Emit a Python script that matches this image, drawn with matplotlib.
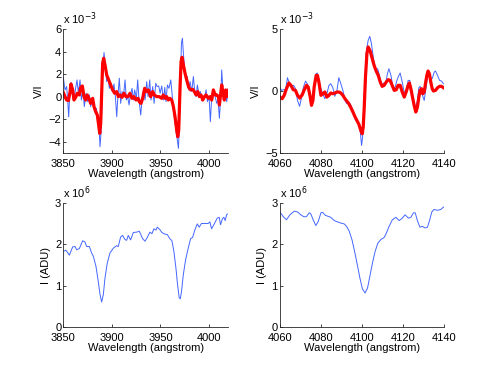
import matplotlib
matplotlib.use('Agg')
import matplotlib.pyplot as plt
import numpy as np

plt.rcParams['font.family'] = ['Liberation Sans', 'DejaVu Sans']
plt.rcParams['font.size'] = 8

# ---- top left: V/I around 3850-4020 (units of 1e-3)
tl_blue_wl = [3850, 3851.7, 3853.4, 3854.5, 3855.5, 3856.5, 3857.9, 3859.3, 3861, 3862.4,
              3864.1, 3865.5, 3867.2, 3868.6, 3870.3, 3871.6, 3873.4, 3875.1, 3876.8, 3878.2,
              3879.6, 3881.3, 3882.6, 3884, 3885.7, 3887.1, 3887.8, 3888.8, 3889.9, 3890.9,
              3891.9, 3893.3, 3894.7, 3896, 3897.4, 3899.1, 3900.5, 3902.2, 3903.6, 3905,
              3906.4, 3907.7, 3909.1, 3910.5, 3911.9, 3913.6, 3914.9, 3916.3, 3917.7, 3919.1,
              3920.8, 3922.2, 3923.5, 3925.3, 3926.6, 3928, 3929.7, 3931.4, 3932.8, 3934.2,
              3935.9, 3937.3, 3939, 3940.4, 3942.1, 3943.5, 3945.2, 3946.6, 3948.3, 3949.7,
              3951.4, 3953.1, 3954.5, 3955.8, 3957.2, 3958.9, 3960.7, 3962, 3963.4, 3964.8,
              3966.2, 3967.5, 3968.6, 3969.6, 3970.6, 3971.7, 3972.7, 3973.7, 3975.1, 3976.5,
              3977.8, 3979.2, 3980.6, 3982.3, 3984, 3985.4, 3986.8, 3988.1, 3989.9, 3991.2,
              3992.6, 3994.3, 3995.7, 3997.1, 3998.5, 4000.2, 4001.5, 4002.9, 4004.6, 4006.4,
              4008.1, 4009.5, 4010.8, 4012.2, 4013.2, 4014.3, 4015.6, 4017, 4018.4, 4019.8]
tl_blue = [1.7, 0.6, 0.9, -0.3, -1.8, 0, 1.25, 0.45, -0.3, 0.6,
           1.49, 0.3, 1.49, -0.3, 0.6, -0.89, 0.3, -0.45, 0.15, -0.89,
           -0.3, -0.6, -1.34, -1.04, -2.08, -3.27, -4.46, -3.27, 0, 2.68,
           3.93, 2.68, 1.34, 1.79, 0.74, 1.19, 0.45, 1.13, 0, -1.79,
           0.3, 1.64, -0.6, 0.45, 0, 1.49, -0.3, 0, -0.74, 0.15,
           0.74, -0.3, 0.6, -0.15, 1.49, -0.3, -1.64, 0, 0.6, -0.3,
           1.34, 0, 1.49, -0.3, 0.9, -0.6, 1.19, 0.9, 0.95, 0.3,
           0.95, -0.3, 0.83, -0.45, 1.04, 0.74, 1.49, 0.3, -1.19, -2.08,
           -3.12, -3.87, -4.61, -2.68, 0.9, 4.76, 5.2, 3.87, 2.38, 1.79,
           1.79, 0.6, 1.34, 0.45, 1.79, 0.45, 0, 1.04, 0.15, 0.45,
           -0.3, 0, 0, 0.6, -0.45, 0, -2.23, 0, 0.6, 0,
           -0.6, -0.3, -1.93, 0, 2.38, 0.74, -0.3, 0.65, -0.45, 0.74]

tl_red_wl = [3850, 3851.7, 3853.4, 3855.2, 3857, 3857.9, 3859.6, 3861, 3863, 3864.4,
             3866.5, 3867.9, 3869.6, 3871.3, 3873, 3874.7, 3876.8, 3878.1, 3880.2, 3881.6,
             3883.3, 3885, 3886.4, 3887.5, 3888.5, 3889.5, 3890.5, 3891.6, 3892.9, 3894.7,
             3896.7, 3898.8, 3900.8, 3902.9, 3904.9, 3906.7, 3908.4, 3910.5, 3912.5, 3914.6,
             3916.7, 3918.7, 3920.8, 3922.8, 3924.9, 3927, 3928.3, 3930, 3931.8, 3933.8,
             3935.9, 3937.6, 3940, 3942, 3943.8, 3946.2, 3948.9, 3951.3, 3953, 3954.8,
             3956.5, 3958.2, 3959.9, 3961.7, 3963.4, 3965.1, 3966.8, 3967.9, 3968.9, 3970.3,
             3971.3, 3972.3, 3973.7, 3975.4, 3977.1, 3979.2, 3981.2, 3983.3, 3985, 3986.8,
             3988.5, 3990.2, 3991.9, 3993.6, 3995.4, 3997.1, 3999.5, 4001.2, 4002.9, 4004.6,
             4006.4, 4008.1, 4009.8, 4010.8, 4012.2, 4013.2, 4014.9, 4015.9, 4017.3, 4018.4,
             4020]
tl_red = [0.36, 0, -0.3, -0.35, 0.45, 1.13, 0.6, -0.3, 0, 0.3,
          0.15, 0.83, 0.95, 0, -0.3, 0.15, -0.24, -0.6, -0.15, -0.89,
          -1.34, -1.64, -2.53, -3.27, -2.38, 0.3, 2.98, 3.42, 2.83, 1.93,
          1.49, 1.04, 0.6, 0.3, 0.45, 0, 0.15, -0.06, 0.3, 0,
          0, 0.3, -0.15, 0, -0.3, -0.15, -0.45, -0.6, -0.15, 0.74,
          0.45, 0.6, 0, 0.45, 0.15, 0, 0, -0.15, 0.15, -0.15,
          0, -0.3, -0.15, -0.3, -0.89, -1.79, -2.98, -3.57, -2.98, 0.89,
          3.13, 3.51, 2.83, 2.08, 1.49, 0.83, 0.6, 0.65, 0.45, 0.15,
          0.45, 0, 0.15, -0.3, 0, 0.15, -0.15, 0, -0.3, 0.6,
          0.15, 0.15, 0, -0.74, 0.3, 1.04, 0.15, -0.3, 0.6, 0,
          0.53]

# ---- top right: V/I around 4060-4140 (units of 1e-3)
tr_blue_wl = [4060, 4060.8, 4061.8, 4062.8, 4063.7, 4064.7, 4065.7, 4066.7, 4067.6, 4068.6,
              4069.6, 4070.6, 4071.5, 4072.5, 4073.5, 4074.4, 4075.4, 4076.4, 4077.4, 4078.2,
              4079, 4080, 4080.9, 4081.9, 4082.9, 4083.9, 4084.8, 4085.8, 4086.8, 4087.8,
              4088.7, 4089.7, 4090.7, 4091.7, 4092.6, 4093.6, 4094.6, 4095.6, 4096.5, 4097.5,
              4098.5, 4099.1, 4099.8, 4100.3, 4100.7, 4101.4, 4102, 4103, 4103.8, 4104.6,
              4105.6, 4106.6, 4107.6, 4108.5, 4109.5, 4110.5, 4111.5, 4112.4, 4113.1, 4114.1,
              4115, 4116, 4117, 4118, 4118.6, 4119.6, 4120.6, 4121.5, 4122.5, 4123.3,
              4124.1, 4125.1, 4126.1, 4127, 4127.7, 4128.3, 4129.3, 4130.3, 4131.3, 4132.2,
              4133.2, 4134.2, 4135.2, 4135.8, 4136.8, 4137.8, 4138.7, 4139.7]
tr_blue = [0.32, 0.05, 0.11, 0.11, 1.08, 0.59, 0.38, 0.46, 0.19, -0.76,
           -1.24, -0.49, 0.32, 0.81, 0.54, -0.35, -0.76, -0.08, 1.35, 1.46,
           0.73, 0.19, -0.22, -0.62, -0.22, 0.46, 0.59, 0.27, -0.43, 0.05,
           1.08, 0.59, 0.05, -0.76, -1.03, -0.89, -1.16, -1.57, -2.24, -2.38,
           -2.65, -3.19, -4.41, -3.73, -1.84, 0.59, 3.03, 4.11, 4.43, 3.84,
           2.62, 1.68, 1.81, 1.27, 0.46, 0.65, 0.59, 1.41, 1.81, 1.27,
           0.38, 0.19, 0.86, 1.27, 1.46, 0.73, -0.16, 0.05, 0.86, 0.86,
           0.05, -0.89, -1.30, -0.76, 0.27, 0.38, -0.27, -0.76, 0.38, 1.54,
           1.08, 1.0, 1.54, 1.62, 1.27, 0.86, 0.81, 0.59]

tr_red_wl = [4060, 4061.1, 4062.1, 4063.2, 4064.4, 4065.4, 4066.5, 4067.6, 4068.6, 4069.7,
             4070.9, 4071.9, 4073, 4073.8, 4074.8, 4075.4, 4076.1, 4076.7, 4077.7, 4078.3,
             4079, 4080, 4080.9, 4081.9, 4082.9, 4083.9, 4084.8, 4085.8, 4086.8, 4087.8,
             4088.7, 4089.7, 4090.7, 4091.7, 4092.6, 4093.6, 4094.6, 4095.6, 4096.5, 4097.5,
             4098.5, 4099.4, 4100.1, 4100.6, 4101.1, 4101.7, 4102.4, 4103, 4104, 4105,
             4105.9, 4106.9, 4107.9, 4108.9, 4109.8, 4110.8, 4111.8, 4112.8, 4113.7, 4114.7,
             4115.7, 4116.7, 4117.6, 4118.6, 4119.6, 4120.6, 4121.5, 4122.5, 4123.1, 4123.8,
             4124.6, 4125.4, 4126.2, 4127, 4127.7, 4128.3, 4129, 4129.6, 4130.3, 4130.9,
             4131.6, 4132.2, 4132.9, 4133.5, 4134.2, 4134.8, 4135.8, 4136.8, 4137.8, 4138.7,
             4139.7]
tr_red = [-0.49, -0.62, -0.35, 0.19, 0.65, 0.46, 0.11, 0.05, -0.35, -0.57,
          -0.3, 0.11, 0.46, 0.32, -0.49, -1.16, -0.76, 0.32, 1.27, 1.27,
          0.73, -0.35, -0.22, -0.08, -0.49, -0.35, -0.16, -0.22, -0.16, -0.08,
          -0.08, -0.16, -0.35, -0.62, -0.81, -1.03, -1.35, -1.70, -2.05, -2.38,
          -2.70, -3.19, -3.46, -2.92, -1.30, 1.14, 3.03, 3.57, 3.24, 2.62,
          2.08, 1.62, 1.27, 0.73, 0.38, 0.46, 0.73, 0.92, 0.86, 0.46,
          0.05, 0.11, 0.46, 0.46, -0.08, -0.49, -0.08, 0.46, 0.65, 0.19,
          -0.49, -1.16, -1.70, -1.30, -0.49, 0.05, 0.19, -0.22, -0.08, 0.59,
          1.27, 1.62, 1.35, 0.73, 0.19, 0, 0.05, 0.27, 0.38, 0.38,
          0.27]

# ---- bottom panels: intensity (units of 1e6 ADU)
bl_wl = [3850, 3852.7, 3856.2, 3859.6, 3862, 3863.7, 3866.5, 3869.9, 3872.3, 3874,
         3876.8, 3879.2, 3880.9, 3883.6, 3886, 3887.8, 3889.5, 3891.2, 3892.9, 3895.3,
         3898, 3901.5, 3904.9, 3906.6, 3909, 3911.1, 3913.5, 3915.2, 3916.9, 3919.3,
         3922.1, 3925.5, 3928.3, 3931.7, 3934.1, 3936.5, 3939.2, 3941.3, 3943.3, 3945.4,
         3946.8, 3949.5, 3951.2, 3953.6, 3957.1, 3959.8, 3961.9, 3963.9, 3966, 3967.7,
         3969.4, 3970.5, 3971.8, 3973.6, 3976, 3978.7, 3981.1, 3983.2, 3985.6, 3988,
         3990, 3992.4, 3995.9, 3999.3, 4001, 4002.7, 4005.1, 4008.6, 4010.6, 4012,
         4014, 4015.4, 4016.8, 4018.2, 4019.2]
bl_flux = [1.83, 1.86, 1.74, 1.94, 1.95, 1.87, 1.90, 2.09, 2.06, 1.95,
           1.95, 1.79, 1.71, 1.47, 1.10, 0.78, 0.60, 0.78, 1.18, 1.55,
           1.79, 1.91, 1.97, 1.95, 2.18, 2.22, 2.12, 2.10, 2.22, 2.11,
           2.29, 2.30, 2.32, 2.14, 2.08, 2.17, 2.30, 2.26, 2.38, 2.35,
           2.42, 2.36, 2.30, 2.26, 2.24, 2.14, 2.09, 1.83, 1.43, 1.02,
           0.70, 0.68, 0.86, 1.26, 1.63, 1.91, 2.14, 2.17, 2.36, 2.50,
           2.42, 2.51, 2.51, 2.51, 2.55, 2.38, 2.48, 2.64, 2.66, 2.48,
           2.63, 2.66, 2.58, 2.72, 2.74]

br_wl = [4060, 4061.6, 4063.2, 4064.9, 4067, 4068.6, 4070.2, 4071.8, 4073, 4074.3,
         4075.1, 4076.2, 4077.5, 4078.7, 4080, 4080.8, 4082.1, 4083.7, 4084.8, 4086.5,
         4088.1, 4089.7, 4091.3, 4092.5, 4093.8, 4095.1, 4096.4, 4097.7, 4099, 4100.2,
         4101.5, 4102.7, 4103.8, 4105.1, 4106.4, 4107.7, 4109.2, 4110.8, 4111.9, 4113.2,
         4114.8, 4116.5, 4118.1, 4119.4, 4121, 4122.6, 4123.8, 4125.1, 4125.9, 4127,
         4128.2, 4129.4, 4130.8, 4131.9, 4133, 4134, 4135.1, 4136.8, 4138.4, 4139.7]
br_flux = [2.79, 2.68, 2.60, 2.72, 2.81, 2.79, 2.72, 2.67, 2.68, 2.77,
           2.74, 2.60, 2.46, 2.56, 2.77, 2.78, 2.71, 2.68, 2.66, 2.58,
           2.55, 2.52, 2.50, 2.44, 2.32, 2.12, 1.83, 1.51, 1.18, 0.92,
           0.82, 0.94, 1.22, 1.55, 1.83, 2.03, 2.12, 2.17, 2.28, 2.44,
           2.60, 2.66, 2.58, 2.63, 2.72, 2.64, 2.66, 2.77, 2.77, 2.58,
           2.42, 2.44, 2.40, 2.42, 2.60, 2.79, 2.85, 2.83, 2.85, 2.91]

blue = '#4466ff'
red = '#ff0000'

fig = plt.figure(figsize=(4.91, 3.69), dpi=100)
ax_tl = fig.add_axes([0.129, 0.586, 0.336, 0.3346])
ax_tr = fig.add_axes([0.570, 0.586, 0.3345, 0.3346])
ax_bl = fig.add_axes([0.129, 0.1146, 0.336, 0.3344])
ax_br = fig.add_axes([0.570, 0.1146, 0.3345, 0.3344])


def style(ax, xlim, ylim, xticks, yticks, ylabel, expo):
    ax.set_xlim(*xlim)
    ax.set_ylim(*ylim)
    ax.set_xticks(xticks)
    ax.set_yticks(yticks)
    ax.set_yticklabels([str(t).replace('-', '\u2212') for t in yticks])
    ax.spines['top'].set_visible(False)
    ax.spines['right'].set_visible(False)
    for s in ('left', 'bottom'):
        ax.spines[s].set_linewidth(0.6)
        ax.spines[s].set_color('#262626')
    ax.tick_params(direction='in', length=2.5, width=0.6, labelsize=8,
                   colors='#262626', labelcolor='black')
    ax.tick_params(axis='x', pad=4.5)
    ax.tick_params(axis='y', pad=1.5)
    ax.set_xlabel('Wavelength (angstrom)', fontsize=8, labelpad=0)
    ax.set_ylabel(ylabel, fontsize=8, labelpad=3)
    ax.text(0.0, 1.015, r'x 10$^{%s}$' % expo, transform=ax.transAxes,
            ha='left', va='bottom', fontsize=8)


ax_tl.plot(tl_blue_wl, tl_blue, color=blue, lw=0.7)
ax_tl.plot(tl_red_wl, tl_red, color=red, lw=2.3)
style(ax_tl, (3850, 4020), (-5, 6), [3850, 3900, 3950, 4000], [-4, -2, 0, 2, 4, 6], 'V/I', '-3')

ax_tr.plot(tr_blue_wl, tr_blue, color=blue, lw=0.7)
ax_tr.plot(tr_red_wl, tr_red, color=red, lw=2.3)
style(ax_tr, (4060, 4140), (-5, 5), [4060, 4080, 4100, 4120, 4140], [-5, 0, 5], 'V/I', '-3')

ax_bl.plot(bl_wl, bl_flux, color=blue, lw=0.7)
style(ax_bl, (3850, 4020), (0, 3), [3850, 3900, 3950, 4000], [0, 1, 2, 3], 'I (ADU)', '6')

ax_br.plot(br_wl, br_flux, color=blue, lw=0.7)
style(ax_br, (4060, 4140), (0, 3), [4060, 4080, 4100, 4120, 4140], [0, 1, 2, 3], 'I (ADU)', '6')

fig.savefig('out.png', dpi=100)
